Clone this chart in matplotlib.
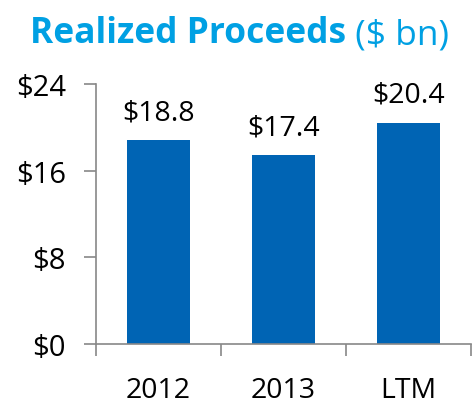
import matplotlib
matplotlib.use("Agg")
import matplotlib.pyplot as plt

categories = ["2012", "2013", "LTM"]
proceeds = [18.8, 17.4, 20.4]
value_labels = ["$18.8", "$17.4", "$20.4"]
yticks = [0, 8, 16, 24]
ytick_labels = ["$0", "$8", "$16", "$24"]

plt.rcParams['font.family'] = ['Open Sans', 'DejaVu Sans']

fig = plt.figure(figsize=(4.73, 4.06), dpi=100)
ax = fig.add_axes([0.203, 0.150, 0.793, 0.641])

x = range(len(categories))
bars = ax.bar(x, proceeds, width=0.5, color="#0064b4")
for b, lab in zip(bars, value_labels):
    ax.text(b.get_x() + b.get_width() / 2, b.get_height() + 1.3, lab,
            ha="center", va="bottom", fontsize=20.5)

ax.set_xlim(-0.5, 2.5)
ax.set_ylim(0, 24)
ax.set_yticks(yticks)
ax.set_yticklabels(ytick_labels, fontsize=21)
ax.set_xticks(list(x))
ax.set_xticklabels(categories, fontsize=20.5)
ax.set_xticks([-0.5, 0.5, 1.5, 2.5], minor=True)
ax.tick_params(axis="x", which="major", length=0, pad=23)
ax.tick_params(axis="x", which="minor", length=8.6, color="#888888", width=1.2)
ax.tick_params(axis="y", length=8.6, color="#888888", width=1.2, pad=13)

for s in ["top", "right"]:
    ax.spines[s].set_visible(False)
for s in ["left", "bottom"]:
    ax.spines[s].set_color("#888888")
    ax.spines[s].set_linewidth(1.2)

t1 = fig.text(0.063, 0.894, "Realized Proceeds", color="#00a0e3",
              fontsize=25.5, fontweight="bold", va="baseline", ha="left")
ax.annotate(" ($ bn)", xy=(1, 0), xycoords=t1, va="bottom", ha="left",
            color="#00a0e3", fontsize=25.5)

fig.savefig("out.png", dpi=100)
